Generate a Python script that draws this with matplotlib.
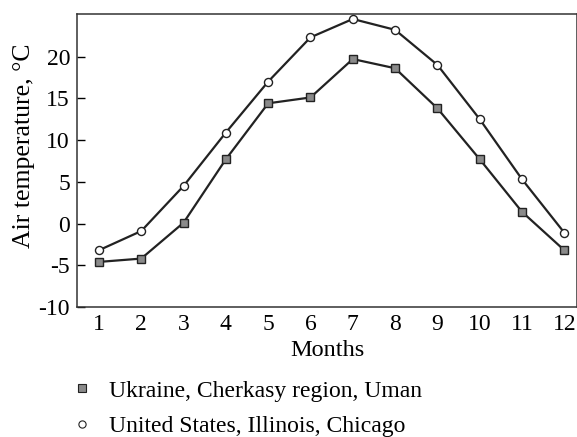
import matplotlib
matplotlib.use('Agg')
import matplotlib.pyplot as plt
from matplotlib.lines import Line2D

plt.rcParams['font.family'] = ['Liberation Serif', 'DejaVu Serif']

# Monthly mean air temperature, deg C
months = list(range(1, 13))
uman = [-4.6, -4.2, 0.1, 7.7, 14.4, 15.1, 19.7, 18.6, 13.8, 7.7, 1.4, -3.2]
chicago = [-3.2, -0.9, 4.5, 10.9, 17.0, 22.3, 24.5, 23.2, 19.0, 12.5, 5.3, -1.1]
labels = ['Ukraine, Cherkasy region, Uman', 'United States, Illinois, Chicago']
yticks = [-10, -5, 0, 5, 10, 15, 20]

fig = plt.figure(figsize=(5.77, 4.37), dpi=100)
ax = fig.add_axes([0.1334, 0.2975, 0.8666, 0.6705])

ax.plot(months, chicago, '-o', color='#222222', linewidth=1.6,
        markersize=5.8, markerfacecolor='white', markeredgecolor='#222222',
        markeredgewidth=1.0, zorder=3)
ax.plot(months, uman, '-s', color='#222222', linewidth=1.6,
        markersize=6.3, markerfacecolor='#8a8a8a', markeredgecolor='#222222',
        markeredgewidth=1.0, zorder=3)

ax.set_xlim(0.48, 12.3)
ax.set_ylim(-10, 25.1)
ax.set_xticks(months)
ax.set_yticks(yticks)
ax.set_yticklabels([str(t) for t in yticks])
ax.tick_params(axis='y', direction='in', length=6, width=1, labelsize=17, pad=5)
ax.tick_params(axis='x', length=0, labelsize=17, pad=5)
for s in ax.spines.values():
    s.set_linewidth(1.1)
    s.set_color('#333333')

ax.set_xlabel('Months', fontsize=17.5, labelpad=4)
ax.set_ylabel('Air temperature, \u00b0C', fontsize=18.5)
ax.yaxis.set_label_coords(-0.083, 0.55)

handles = [
    Line2D([], [], linestyle='none', marker='s', markersize=6.2,
           markerfacecolor='#8a8a8a', markeredgecolor='#222222', markeredgewidth=0.8),
    Line2D([], [], linestyle='none', marker='o', markersize=5.2,
           markerfacecolor='white', markeredgecolor='#222222', markeredgewidth=0.8),
]
fig.legend(handles, labels, loc='upper left', bbox_to_anchor=(0.127, 0.130),
           frameon=False, fontsize=17, handlelength=0.7, handletextpad=0.8,
           labelspacing=0.58, borderaxespad=0, borderpad=0)

fig.savefig('out.png', dpi=100)
